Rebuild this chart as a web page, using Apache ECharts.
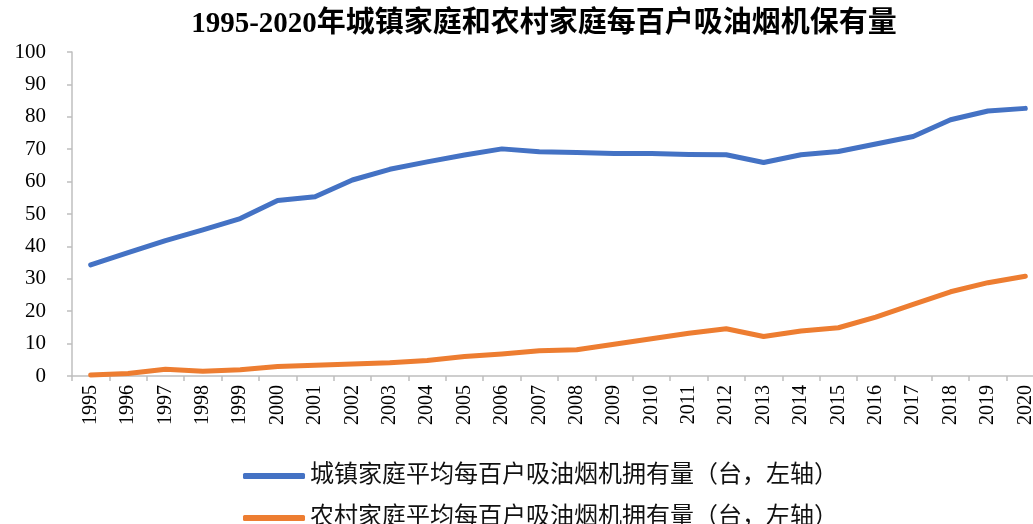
<!DOCTYPE html>
<html>
<head>
<meta charset="utf-8">
<title>吸油烟机保有量</title>
<script src="https://cdn.jsdelivr.net/npm/echarts@6/dist/echarts.min.js"></script>
<style>
  html, body { margin: 0; padding: 0; background: #fff; }
  #chart { width: 1033px; height: 524px; }
</style>
</head>
<body>
<div id="chart"></div>
<script>
// 年份 (x 轴)
var years = ['1995', '1996', '1997', '1998', '1999', '2000', '2001', '2002', '2003', '2004',
  '2005', '2006', '2007', '2008', '2009', '2010', '2011', '2012', '2013', '2014',
  '2015', '2016', '2017', '2018', '2019', '2020'];

// 城镇家庭平均每百户吸油烟机拥有量 (台)
var urban = [34.3, 38.1, 41.8, 45.1, 48.6, 54.2, 55.3, 60.5, 63.8, 66.1,
  68.2, 70.1, 69.2, 69.0, 68.7, 68.7, 68.4, 68.3, 65.9, 68.3,
  69.3, 71.6, 73.9, 79.1, 81.8, 82.6];

// 农村家庭平均每百户吸油烟机拥有量 (台)
var rural = [0.3, 0.8, 2.1, 1.5, 1.9, 2.9, 3.3, 3.7, 4.1, 4.8,
  6.0, 6.8, 7.8, 8.1, 9.8, 11.5, 13.2, 14.6, 12.2, 13.9,
  14.9, 18.2, 22.1, 26.0, 28.8, 30.8];

var seriesNames = ['城镇家庭平均每百户吸油烟机拥有量（台，左轴）', '农村家庭平均每百户吸油烟机拥有量（台，左轴）'];

var serif = '"Liberation Serif", "Times New Roman", "Noto Sans CJK SC", serif';

// 图例公共样式, 两行分开放
var legendBase = {
  left: 238,
  itemWidth: 62,
  itemHeight: 6,
  icon: 'roundRect',
  textStyle: {
    fontFamily: serif,
    fontSize: 24,
    color: '#111'
  }
};

var chart = echarts.init(document.getElementById('chart'));

var option = {
  animation: false,
  // 大标题
  title: {
    text: '1995-2020年城镇家庭和农村家庭每百户吸油烟机保有量',
    left: 539,
    textAlign: 'center',
    top: 5,
    textStyle: {
      fontFamily: serif,
      fontSize: 29,
      fontWeight: 'bold',
      color: '#000'
    }
  },
  legend: [
    Object.assign({}, legendBase, { data: [seriesNames[0]], top: 459 }),
    Object.assign({}, legendBase, { data: [seriesNames[1]], top: 501 })
  ],
  grid: {
    left: 72,
    top: 52,
    width: 972,
    height: 324,
    outerBoundsMode: 'none'
  },
  xAxis: {
    type: 'category',
    data: years,
    boundaryGap: true,
    axisLine: { lineStyle: { color: '#bfbfbf', width: 1.5 } },
    axisTick: { show: true, length: 5, lineStyle: { color: '#bfbfbf', width: 1.5 } },
    axisLabel: {
      interval: 0,
      rotate: 90,
      margin: 9,
      fontFamily: serif,
      fontSize: 20,
      color: '#000'
    },
    splitLine: { show: false }
  },
  yAxis: {
    type: 'value',
    min: 0,
    max: 100,
    interval: 10,
    axisLine: { show: true, lineStyle: { color: '#bfbfbf', width: 1.5 } },
    axisTick: { show: true, length: 5, lineStyle: { color: '#bfbfbf', width: 1.5 } },
    axisLabel: {
      margin: 26,
      fontFamily: serif,
      fontSize: 21,
      color: '#000'
    },
    splitLine: { show: false }
  },
  series: [
    {
      name: seriesNames[0],
      type: 'line',
      data: urban,
      showSymbol: false,
      color: '#4472c4',
      lineStyle: { width: 5, cap: 'round', join: 'round' }
    },
    {
      name: seriesNames[1],
      type: 'line',
      data: rural,
      showSymbol: false,
      color: '#ed7d31',
      lineStyle: { width: 5, cap: 'round', join: 'round' }
    }
  ]
};

chart.setOption(option);
</script>
</body>
</html>
